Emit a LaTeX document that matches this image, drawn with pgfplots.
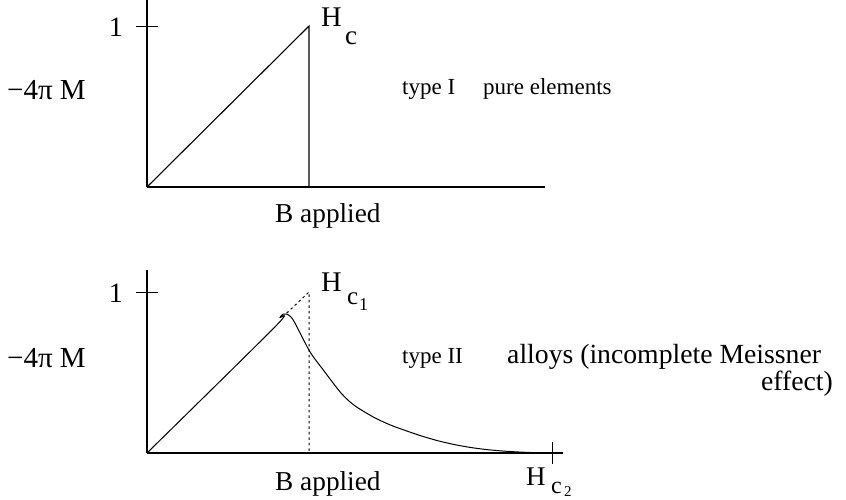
\documentclass[border=0pt]{standalone}
\usepackage{pgfplots}
\pgfplotsset{compat=1.18}
\usepackage{fontspec}
\setmainfont{Liberation Serif}

\newcommand\fsz[1]{\fontsize{#1bp}{#1bp}\selectfont}

\pgfplotsset{
  magnet/.style={
    scale only axis,
    axis x line=bottom, axis y line=left,
    axis line style={-, line width=1.1bp, black},
    xmin=0, ymin=0,
    ytick={1}, yticklabels={},
    xtick=\empty, xticklabels={},
    tick align=center,
    major tick length=22bp,
    tick style={line width=0.9bp, black},
    clip=false,
    anchor=south west,
  }
}

\begin{document}
\begin{tikzpicture}[x=1bp,y=-1bp]
\useasboundingbox (0,0) rectangle (846,500);

% Type I: magnetisation rises linearly up to H_c, then drops to zero
\begin{axis}[magnet, at={(147bp,-187bp)},
  width=398bp, height=188bp, xmax=2.457, ymax=1.168]
\addplot[black, line width=1.1bp] coordinates {(0,0) (1,1) (1,0)};
\end{axis}

% Type II: gradual decay between H_c1 and H_c2
\begin{axis}[magnet, at={(147bp,-453bp)},
  width=416bp, height=183bp, xmax=2.568, ymax=1.137,
  xtick={2.5}]
\addplot[black, line width=1bp, dash pattern=on 2.5bp off 3bp]
  coordinates {(0.862,0.869) (1,1) (1,0)};
\addplot[black, line width=1bp, smooth, tension=0.5] coordinates {
  (0,0) (0.790,0.784) (0.821,0.843) (0.841,0.863) (0.862,0.863)
  (0.887,0.847) (0.914,0.806) (1.006,0.629) (1.088,0.516)
  (1.150,0.433) (1.200,0.370) (1.250,0.320) (1.300,0.282)
  (1.400,0.222) (1.500,0.175) (1.600,0.138) (1.700,0.104)
  (1.800,0.075) (1.900,0.052) (2.000,0.034) (2.100,0.021)
  (2.200,0.012) (2.300,0.006) (2.400,0.002) (2.498,0)};
\end{axis}

% labels, upper panel
\node[anchor=base east, inner sep=0] at (123,37) {\fsz{28}1};
\node[anchor=base west, inner sep=0] at (321,27) {\fsz{28.5}H};
\node[anchor=base west, inner sep=0] at (345,45) {\fsz{27}c};
\node[anchor=base west, inner sep=0] at (7,100) {\fsz{29}−4π M};
\node[anchor=base west, inner sep=0] at (402,95) {\fsz{23}type I};
\node[anchor=base west, inner sep=0] at (483,95) {\fsz{23}pure elements};
\node[anchor=base west, inner sep=0] at (275,223) {\fsz{27.3}B applied};

% labels, lower panel
\node[anchor=base east, inner sep=0] at (123,303) {\fsz{28}1};
\node[anchor=base west, inner sep=0] at (321,292) {\fsz{28.5}H};
\node[anchor=base west, inner sep=0] at (347,305) {\fsz{25}c};
\node[anchor=base west, inner sep=0] at (359,311) {\fsz{18}1};
\node[anchor=base west, inner sep=0] at (7,367) {\fsz{29}−4π M};
\node[anchor=base west, inner sep=0] at (402,363) {\fsz{23}type II};
\node[anchor=base west, inner sep=0] at (507,363) {\fsz{27.7}alloys (incomplete Meissner};
\node[anchor=base east, inner sep=0] at (833,390) {\fsz{27.7}effect)};
\node[anchor=base west, inner sep=0] at (275,490) {\fsz{27.3}B applied};
\node[anchor=base west, inner sep=0] at (526,485) {\fsz{27}H};
\node[anchor=base west, inner sep=0] at (551,493) {\fsz{24}c};
\node[anchor=base west, inner sep=0] at (564,496) {\fsz{15}2};
\end{tikzpicture}
\end{document}
